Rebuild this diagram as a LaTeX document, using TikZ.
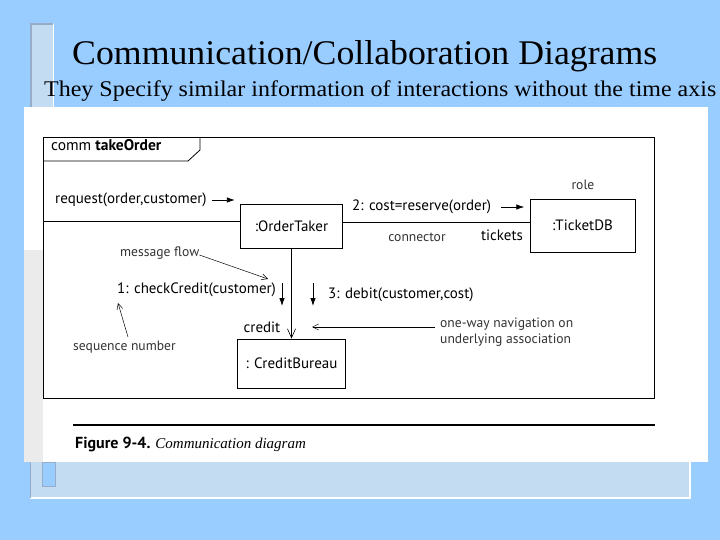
\documentclass[tikz,border=0pt]{standalone}
\usepackage{fontspec}
\setmainfont{Liberation Serif}
\newfontfamily\diag{PT Sans}
\usetikzlibrary{arrows.meta}
\definecolor{bgblue}{RGB}{153,204,255}
\definecolor{panel}{RGB}{196,220,242}
\definecolor{bargray}{RGB}{150,172,200}
\tikzset{
  obj/.style={draw,line width=0.8pt,fill=white,inner sep=0pt,font=\diag\fontsize{15}{17}\selectfont},
  lbl/.style={inner sep=0pt,font=\diag\fontsize{15}{17}\selectfont},
  note/.style={inner sep=0pt,text=black!80,font=\diag\fontsize{13.6}{16}\selectfont},
  msg/.style={line width=0.8pt,-{Latex[length=8pt,width=5.5pt]}},
  pointer/.style={line width=0.5pt,-{Straight Barb[length=6pt,width=6pt]}},
  nav/.style={line width=0.6pt,-{Straight Barb[length=9pt,width=8pt]}}
}
\begin{document}
\begin{tikzpicture}[x=1pt,y=-1pt]
\useasboundingbox (0,0) rectangle (720,540);
\fill[bgblue] (0,0) rectangle (720,540);
% template panel
\fill[panel] (30,440) rectangle (690,498);
\draw[white,line width=1.5pt] (30,498) -- (690,498) -- (690,440);
\draw[bargray,line width=1pt] (30.5,440) -- (30.5,498);
\fill[panel] (30,23) rectangle (54,462);
\draw[bargray,line width=2pt] (31,462) -- (31,24) -- (53,24);
\draw[white,line width=1.5pt] (53.5,24) -- (53.5,462);
\filldraw[fill=bgblue,draw=bargray,line width=1pt] (42,462) rectangle (55,486);
% titles
\node[anchor=base west,inner sep=0pt] (title) at (72,65) {\resizebox{585pt}{24pt}{Communication/Collaboration Diagrams}};
\node[anchor=base west,inner sep=0pt] (sub) at (44,97) {\resizebox{672pt}{15.8pt}{They Specify similar information of interactions without the time axis}};
% scanned page
\fill[white] (24,107) rectangle (708,462);
\fill[black!8] (24,250) rectangle (43,462);
% frame
\draw[line width=0.8pt] (43,137) rectangle (654,398);
\draw[line width=0.8pt] (43,161) -- (188,161) -- (200,150) -- (200,137);
\node[anchor=base west,inner sep=0pt,font=\diag\fontsize{15.5}{17}\selectfont] (name) at (51,151) {comm \textbf{takeOrder}};
% objects
\node[obj,minimum width=102pt,minimum height=44pt] (ot) at (291.5,226) {:OrderTaker};
\node[obj,minimum width=105pt,minimum height=53pt] (tdb) at (582.5,225.5) {:TicketDB};
\node[obj,minimum width=108pt,minimum height=49pt] (cb) at (291.5,363.5) {: CreditBureau};
% connectors
\coordinate (fl) at (43,221);
\draw[line width=0.8pt] (fl) -- ([yshift=5pt]ot.west);
\draw[line width=0.8pt] ([yshift=4pt]ot.east) -- ([yshift=3.5pt]tdb.west);
\draw[nav] (ot.south) -- (cb.north);
% messages
\node[lbl,anchor=west] (req) at (55,200) {request(order,customer)};
\draw[msg] ([xshift=5pt]req.east) -- ([xshift=28pt]req.east);
\node[lbl,anchor=west] (res) at (352,207) {2: cost=reserve(order)};
\draw[msg] ([xshift=10pt]res.east) -- ([xshift=33pt]res.east);
\node[lbl,anchor=west] (cc) at (117,290) {1: checkCredit(customer)};
\coordinate (c1a) at (282,283);
\coordinate (c1b) at (282,306);
\draw[msg] (c1a) -- (c1b);
\coordinate (c3a) at (313,283);
\coordinate (c3b) at (313,306);
\draw[msg] (c3a) -- (c3b);
\node[lbl,anchor=west] (db) at (328,295) {3: debit(customer,cost)};
\node[lbl] (credit) at (262,327) {credit};
% notes
\node[note] (role) at (583,185) {role};
\node[note] (conn) at (417,237) {connector};
\node[lbl] (tick) at (502,235) {tickets};
\node[note,anchor=north west,align=left] (navtxt) at (440,318) {one-way navigation on\\underlying association};
\coordinate (navs) at (435,327);
\coordinate (nave) at (312,327);
\draw[pointer] (navs) -- (nave);
\node[note,anchor=west] (mf) at (120,253) {message flow};
\coordinate (mfe) at (268,279);
\draw[pointer] ([yshift=-2pt]mf.east) -- (mfe);
\node[note,anchor=west] (sn) at (73,347) {sequence number};
\coordinate (sns) at (128,337);
\coordinate (sne) at (118,303);
\draw[pointer] (sns) -- (sne);
% caption
\draw[line width=1.6pt] (73,425) -- (655,425);
\node[anchor=base west,inner sep=0pt] (cap) at (75,448) {{\diag\bfseries\fontsize{16}{18}\selectfont Figure 9-4.}\enspace{\itshape\fontsize{15}{17}\selectfont Communication diagram}};
\end{tikzpicture}
\end{document}
